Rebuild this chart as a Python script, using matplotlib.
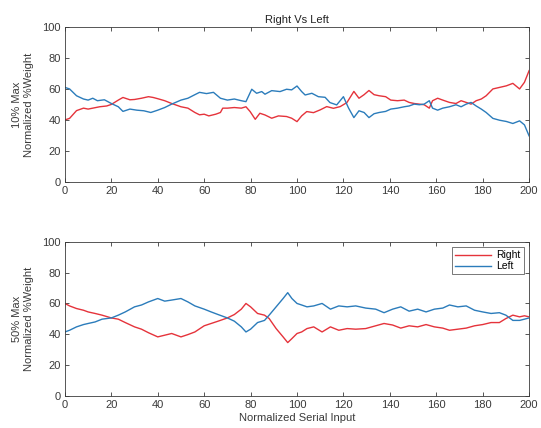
import matplotlib
matplotlib.use('Agg')
import matplotlib.pyplot as plt

# Top panel (10% Max)
x_top_right = [0, 2, 5, 8, 10, 12, 15, 18, 20, 23, 25, 28, 30, 33, 36, 38, 40, 43, 46, 50,
               53, 56, 58, 60, 62, 65, 67, 68, 70, 73, 76, 78,
               79.8, 82, 84, 86.2, 89.1, 92, 95.5, 97.7, 100, 102, 104.2, 107.1, 110, 112.8,
               115.7, 118.6, 121.5,
               124.5, 126.7, 128.9, 131, 133.2, 135.4, 138.2, 140.4, 143.3, 146.2, 148.3, 150.5,
               152.7, 154.8, 157, 158.4, 160.6, 162.8, 165.7, 168.5, 170.7, 172.9, 175, 177.2,
               179.4, 181.5, 184.4, 187.3, 190.2, 193, 195.9, 198, 200]
right_top = [40, 41, 46, 47.6, 47, 47.6, 48.5, 49, 50, 52.8, 54.5, 53, 53.2, 54, 55, 54.5, 53.7,
             52.4, 50.6, 48.5, 47.6, 44.8, 43.3, 43.7, 42.6, 43.7, 44.8, 47.6, 47.6, 48, 47.6, 48.5,
             45.4, 40.4, 44.3, 43.2, 41.1, 42.6, 42.2, 41.1, 38.9, 42.6, 45.4, 44.7, 46.5, 48.6,
             47.5, 48.6, 51.2,
             58.4, 54, 56.3, 59, 56.3, 55.6, 55, 52.8, 52.4, 52.8, 51.3, 50.6, 50.2, 49.8, 47.6,
             52.4, 54, 52.8, 51.3, 50.6, 52.4, 51.3, 50.2, 52.4, 53.5, 55.6, 60, 61, 62, 63.6,
             60, 64.3, 71.8]

x_top_left = [0, 2, 5, 8, 10, 12, 14, 17, 20, 23, 25, 28, 31, 34, 37, 40, 43, 46, 50, 53, 56,
              58, 61, 64, 67, 70, 73, 76, 78,
              80.5, 82.6, 84.8, 86.2, 89.1, 92.7, 95.5, 97.7, 100, 102, 103.5, 106.4, 109.2,
              112.1, 114.2, 117.1, 120, 122.2,
              124.5, 126.7, 128.9, 131, 133.2, 135.4, 138.2, 140.4, 143.3, 146.2, 148.3, 150.5,
              152.7, 154.8, 157, 158.4, 160.6, 162.8, 165.7, 168.5, 170.7, 172.9, 175, 177.2,
              179.4, 181.5, 184.4, 187.3, 190.2, 193, 195.9, 198, 200]
left_top = [61, 60, 55.6, 53.5, 52.8, 54, 52.4, 53, 50.6, 48.5, 45.5, 47, 46.3, 45.9, 44.8,
            46.3, 48, 50.2, 52.8, 54, 56.3, 57.8, 57, 57.8, 54, 52.8, 53.5, 52.4, 51.8,
            59.8, 57.2, 58.3, 56.6, 58.9, 58.3, 59.8, 59.4, 61.9, 58.3, 56.1, 57.2, 55, 54.6,
            51.2, 49.7, 55, 47.7,
            41.5, 45.9, 44.8, 41.5, 44, 44.8, 45.5, 47, 47.6, 48.5, 49, 50.2, 49.8, 50.2, 52.4,
            47.6, 46.3, 47.6, 48.5, 49.8, 48.5, 50.2, 51.3, 49, 47, 44.8, 41, 39.8, 39, 37.7,
            39.4, 36.8, 29.7]

# Bottom panel (50% Max)
x_bot = [0, 2, 5, 8, 10, 13, 16, 20, 23, 26, 30, 33, 36, 40, 43, 46, 50, 53, 56, 60, 63, 66,
         70, 73, 76, 78, 80, 83, 86, 88, 91, 94, 96, 97.8, 100, 102, 104.3, 107.2, 110.8,
         114.4, 118, 121.6, 125.3, 129.6, 133.9, 137.5, 141.2, 144.7, 148.3, 152, 155.6,
         159.2, 162.8, 165.7, 169.3, 172.9, 176.5, 180, 183.6, 187.2, 190, 193, 195.9, 198, 200]
right_bot = [60, 58.4, 56.7, 55.6, 54.5, 53.5, 52.4, 50.6, 49.8, 47.6, 44.8, 43.3, 41, 38.3,
             39.4, 40.5, 38.3, 39.8, 41.5, 45.5, 47, 48.5, 50.6, 52.8, 56.3, 60, 57.8, 53.5,
             52.4, 50.2, 43.7, 38.3, 34.6, 37.2, 40.5, 41.5, 43.7, 44.8, 41.5, 44.8, 42.6,
             43.7, 43.3, 43.7, 45.5, 47, 46, 44, 45.5, 44.8, 46.3, 44.8, 44, 42.6, 43.3, 44,
             45.5, 46.3, 47.6, 47.6, 50.2, 52.4, 51.3, 52, 51.3]
left_bot = [41.5, 42.6, 44.8, 46.3, 47, 48, 49.8, 50.6, 52.4, 54.5, 57.8, 59, 61, 63.2, 61.5,
            62.2, 63.2, 61, 58.4, 56.3, 54.5, 52.8, 50.6, 48.5, 44.8, 41.5, 43.3, 47.6, 49,
            52.4, 57.8, 63.2, 67, 63.2, 60, 59, 57.8, 58.4, 60, 56.3, 58.4, 57.8, 58.4, 57,
            56.3, 54, 56.3, 57.8, 55, 56.3, 54.5, 56.3, 57, 59, 57.8, 58.4, 55.6, 54.5, 53.5,
            54, 52.4, 49, 49, 49.8, 50.6]

red = '#e5333b'
blue = '#2b7cbb'
grey = '#3a3a3a'

plt.rcParams['font.family'] = 'Liberation Sans'
plt.rcParams['font.size'] = 8

fig = plt.figure(figsize=(5.41, 4.28), dpi=100)
ax1 = fig.add_axes([0.120, 0.575, 0.858, 0.362])
ax2 = fig.add_axes([0.120, 0.075, 0.858, 0.360])

ax1.plot(x_top_right, right_top, color=red, lw=1, label='Right')
ax1.plot(x_top_left, left_top, color=blue, lw=1, label='Left')
ax2.plot(x_bot, right_bot, color=red, lw=1, label='Right')
ax2.plot(x_bot, left_bot, color=blue, lw=1, label='Left')

for ax, lab in [(ax1, '10% Max\nNormalized %Weight'), (ax2, '50% Max\nNormalized %Weight')]:
    ax.set_xlim(0, 200)
    ax.set_ylim(0, 100)
    ax.set_xticks(range(0, 201, 20))
    ax.set_yticks(range(0, 101, 20))
    ax.tick_params(direction='in', top=True, right=True, length=3, width=0.6,
                   colors=grey, labelsize=8, pad=3)
    for s in ax.spines.values():
        s.set_color(grey)
        s.set_linewidth(0.6)
    ax.set_ylabel(lab, color=grey, fontsize=8, linespacing=1.2, labelpad=6)

ax1.set_title('Right Vs Left', fontsize=8, color='#222222', pad=3)
ax2.set_xlabel('Normalized Serial Input', color=grey, fontsize=8, labelpad=2)
leg = ax2.legend(loc='upper right', fontsize=7.5, frameon=True, fancybox=False,
                 handlelength=3.5, borderpad=0.3, labelspacing=0.1, handletextpad=0.5)
leg.get_frame().set_edgecolor(grey)
leg.get_frame().set_linewidth(0.6)

fig.savefig('out.png', dpi=100)
